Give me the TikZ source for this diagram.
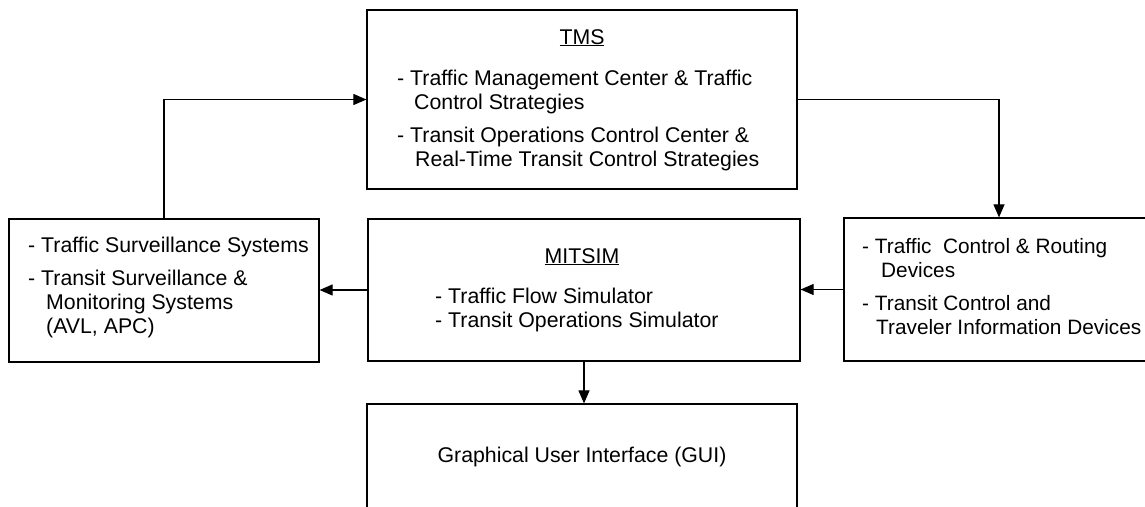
\documentclass[tikz,border=0pt]{standalone}
\usepackage{fontspec}
\setmainfont{Liberation Sans}
\usetikzlibrary{arrows.meta}
\tikzset{
  boxnode/.style={draw=black, line width=1.2pt, rectangle, inner sep=0pt, fill=white},
  txt/.style={inner sep=0pt, font=\fontsize{21.3}{24}\selectfont},
  conn/.style={draw=black, line width=1.1pt, -{Triangle[length=13pt,width=11pt]}}
}
\begin{document}
\begin{tikzpicture}[x=1pt,y=-1pt]
\clip (0,0) rectangle (1145,506);
\fill[white] (0,0) rectangle (1145,506);
% boxes
\node[boxnode, minimum width=430pt, minimum height=179pt] (tms) at (582,99.5) {};
\node[boxnode, minimum width=310pt, minimum height=143pt] (lbox) at (164,290.5) {};
\node[boxnode, minimum width=432pt, minimum height=142pt] (mitsim) at (584,290) {};
\node[boxnode, minimum width=310pt, minimum height=143pt] (rbox) at (999,289.5) {};
\node[boxnode, minimum width=430pt, minimum height=140pt] (gui) at (582,474) {};
% texts
\node[txt, anchor=base] (tmstitle) at (582,44) {\underline{TMS}};
\node[txt, anchor=base west] (tmsbody) at (397,85) {\begin{tabular}[t]{@{}l@{}}
- Traffic Management Center \& Traffic\\
\hspace*{17pt}Control Strategies\\[9pt]
- Transit Operations Control Center \&\\
\hspace*{18pt}Real-Time Transit Control Strategies
\end{tabular}};
\node[txt, anchor=base west] (lbody) at (28,252) {\begin{tabular}[t]{@{}l@{}}
- Traffic Surveillance Systems\\[9pt]
- Transit Surveillance \&\\
\hspace*{18pt}Monitoring Systems\\
\hspace*{18pt}(AVL, APC)
\end{tabular}};
\node[txt, anchor=base] (mtitle) at (582,263) {\underline{MITSIM}};
\node[txt, anchor=base west] (mbody) at (435,303) {\begin{tabular}[t]{@{}l@{}}
- Traffic Flow Simulator\\
- Transit Operations Simulator
\end{tabular}};
\node[txt, anchor=base west, font=\fontsize{20.8}{24}\selectfont] (rbody) at (862,253) {\begin{tabular}[t]{@{}l@{}}
- Traffic\ \ Control \& Routing\\
\hspace*{19pt}Devices\\[9pt]
- Transit Control and\\
\hspace*{14pt}Traveler Information Devices
\end{tabular}};
\node[txt, anchor=base] (guitext) at (582,462) {Graphical User Interface (GUI)};
% connectors
\draw[conn] (lbox.north) |- (tms.west);
\draw[conn] (tms.east) -| (rbox.north);
\draw[conn] (mitsim.west) -- (mitsim.west -| lbox.east);
\draw[conn] (rbox.west) -- (rbox.west -| mitsim.east);
\draw[conn] (mitsim.south) -- (mitsim.south |- gui.north);
\end{tikzpicture}
\end{document}
